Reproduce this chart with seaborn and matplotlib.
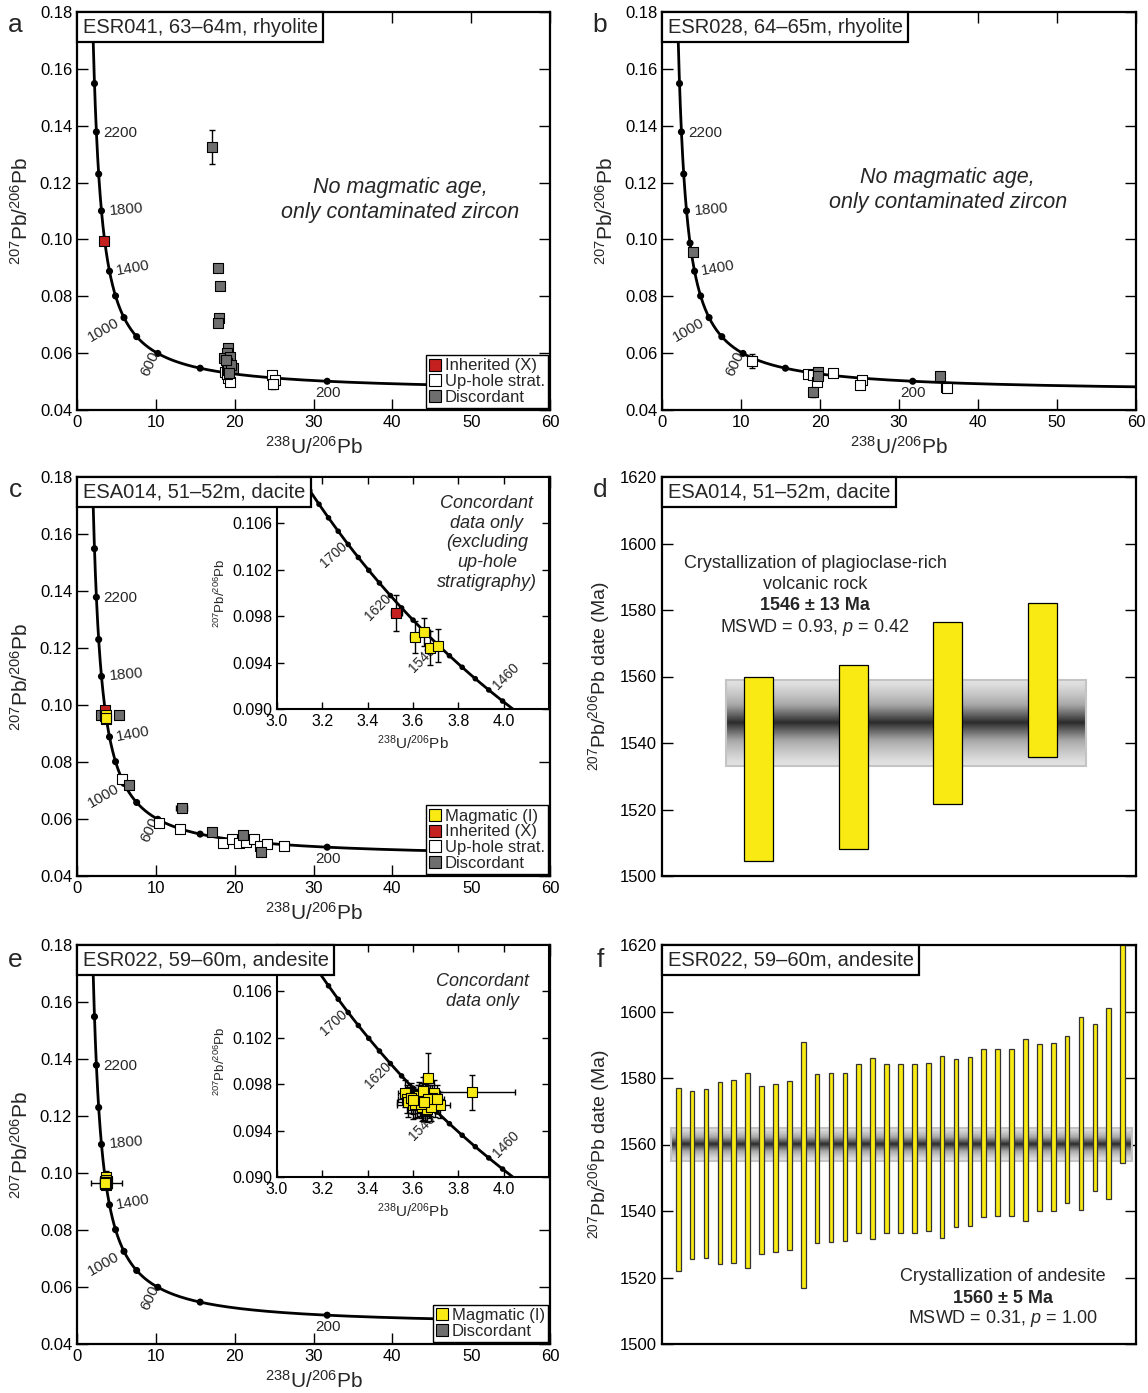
import numpy as np
import matplotlib
matplotlib.use('Agg')
import matplotlib.pyplot as plt
import seaborn as sns
from matplotlib.lines import Line2D
from matplotlib.patches import Rectangle
from matplotlib.offsetbox import AnchoredText
from matplotlib.colors import LinearSegmentedColormap
from matplotlib.ticker import FormatStrFormatter, MultipleLocator

sns.set_style('ticks')
plt.rcParams['font.family'] = ['Liberation Sans', 'DejaVu Sans']
plt.rcParams['mathtext.fontset'] = 'custom'
plt.rcParams['mathtext.rm'] = 'Liberation Sans'
plt.rcParams['mathtext.it'] = 'Liberation Sans:italic'
plt.rcParams['mathtext.bf'] = 'Liberation Sans:bold'

# %% colours
RED = '#c4201f'
WHITE = '#ffffff'
GRAY = '#6e6e6e'
YELLOW = '#f8ea12'

# %% concordia (Tera-Wasserburg) model
L238 = 1.55125e-10
L235 = 9.8485e-10
U_RATIO = 137.88
main_dot_ages = [200, 400, 600, 800, 1000, 1200, 1400, 1600, 1800, 2000, 2200, 2400]
inset_dot_ages = [1440, 1460, 1480, 1500, 1520, 1540, 1560, 1580, 1600, 1620,
                  1640, 1660, 1680, 1700, 1720, 1740, 1760, 1780]
main_labels = [('2200', 5.45, 0.1375, 0), ('1800', 6.3, 0.1106, 5),
               ('1400', 7.14, 0.0898, 10), ('1000', 3.34, 0.0681, 30),
               ('600', 9.2, 0.0562, 65), ('200', 31.8, 0.0459, 0)]
inset_labels = [('1700', 3.249, 0.1033, 42), ('1620', 3.448, 0.0988, 45),
                ('1540', 3.640, 0.0943, 45), ('1460', 4.009, 0.0928, 45)]

# %% ESR041 (a)
a_inh_x = [3.42]
a_inh_y = [0.0993]
a_inh_yerr = [0.0010]
a_up_x = [18.8, 19.2, 19.4, 19.0, 24.7, 25.1, 24.9]
a_up_y = [0.0535, 0.0511, 0.0500, 0.0525, 0.0523, 0.0506, 0.0490]
a_up_yerr = [0.0012, 0.0020, 0.0015, 0.0012, 0.0012, 0.0015, 0.0015]
a_disc_x = [17.16, 17.85, 18.14, 18.0, 17.85, 19.2, 19.0, 18.65, 19.4, 19.0,
            19.2, 19.83, 19.5, 18.9, 19.3]
a_disc_y = [0.1326, 0.0898, 0.0837, 0.0725, 0.0705, 0.0617, 0.0600, 0.0584,
            0.0587, 0.0564, 0.0541, 0.0547, 0.0560, 0.0575, 0.0530]
a_disc_yerr = [0.0060, 0.0010, 0.0010, 0.0009, 0.0009, 0.0015, 0.0012, 0.0010,
               0.0010, 0.0010, 0.0010, 0.0010, 0.0010, 0.0010, 0.0012]

# %% ESR028 (b)
b_disc_x = [3.96, 19.8, 19.8, 19.15, 35.2]
b_disc_y = [0.0955, 0.0535, 0.0519, 0.0462, 0.0521]
b_disc_yerr = [0.0006, 0.0008, 0.0008, 0.0015, 0.0009]
b_up_x = [11.35, 18.5, 19.15, 19.6, 21.6, 25.3, 25.1, 36.0, 36.1]
b_up_y = [0.0572, 0.0527, 0.0523, 0.0500, 0.0531, 0.0506, 0.0488, 0.0482, 0.0476]
b_up_yerr = [0.0026, 0.0006, 0.0012, 0.0012, 0.0006, 0.0006, 0.0012, 0.0006, 0.0005]

# %% ESA014 (c, d)
c_mag_x = [3.608, 3.650, 3.677, 3.709]
c_mag_y = [0.09617, 0.09663, 0.09525, 0.09545]
c_mag_xerr = [0.020, 0.025, 0.020, 0.020]
c_mag_yerr = [0.00138, 0.00120, 0.00144, 0.00144]
c_inh_x = [3.527]
c_inh_y = [0.09828]
c_inh_xerr = [0.024]
c_inh_yerr = [0.00153]
c_up_x = [5.75, 10.4, 13.06, 18.55, 19.6, 20.5, 21.4, 22.4, 23.2, 24.1, 26.3]
c_up_y = [0.0739, 0.0587, 0.0564, 0.0517, 0.0529, 0.0517, 0.0518, 0.0530,
          0.0506, 0.0513, 0.0507]
c_up_yerr = [0.0006, 0.0008, 0.0008, 0.0012, 0.0010, 0.0008, 0.0008, 0.0012,
             0.0012, 0.0012, 0.0010]
c_disc_x = [3.0, 5.37, 6.64, 13.27, 17.1, 21.0, 23.3]
c_disc_y = [0.0966, 0.0965, 0.0721, 0.0640, 0.0554, 0.0544, 0.0485]
c_disc_xerr = [0.2, 0.2, 0.2, 0.7, 0.3, 0.3, 0.3]
c_disc_yerr = [0.0006, 0.0006, 0.0006, 0.0007, 0.0005, 0.0006, 0.0010]
d_lo = [1504.6, 1508.2, 1521.6, 1535.7]
d_hi = [1559.9, 1563.4, 1576.3, 1582.2]
d_mean, d_err = 1546, 13

# %% ESR022 (e, f)
e_mag_x = [3.665, 3.862, 3.566, 3.573, 3.580, 3.599, 3.621, 3.639, 3.646, 3.661,
           3.668, 3.676, 3.691, 3.698, 3.720, 3.653, 3.617, 3.630, 3.655, 3.610,
           3.640, 3.670, 3.685, 3.660, 3.625, 3.645, 3.680, 3.590, 3.635, 3.665,
           3.705, 3.650, 3.600]
e_mag_y = [0.0985, 0.0973, 0.0972, 0.0967, 0.0965, 0.0962, 0.0967, 0.0969, 0.0962, 0.0965,
           0.0970, 0.0966, 0.0972, 0.0964, 0.0962, 0.0961, 0.0964, 0.0966, 0.0968, 0.0963,
           0.0960, 0.0963, 0.0968, 0.0959, 0.0970, 0.0974, 0.0960, 0.0968, 0.0963, 0.0967,
           0.0967, 0.0965, 0.0966]
e_mag_xerr = [0.02, 0.19, 0.03, 0.04, 0.05, 0.07, 0.03, 0.03, 0.03, 0.03,
              0.03, 0.03, 0.03, 0.04, 0.045, 0.03, 0.03, 0.03, 0.03, 0.03,
              0.02, 0.03, 0.03, 0.03, 0.03, 0.03, 0.03, 0.03, 0.03, 0.03,
              0.03, 0.03, 0.03]
e_mag_yerr = [0.0022, 0.0015, 0.0012, 0.0012, 0.0013, 0.0012, 0.0012, 0.0012, 0.0013, 0.0012,
              0.0012, 0.0013, 0.0012, 0.0012, 0.0011, 0.0013, 0.0012, 0.0013, 0.0012, 0.0012,
              0.0012, 0.0012, 0.0011, 0.0012, 0.0012, 0.0012, 0.0012, 0.0013, 0.0012, 0.0012,
              0.0012, 0.0012, 0.0012]
e_disc_x = [3.75]
e_disc_y = [0.0966]
e_disc_xerr = [2.0]
e_disc_yerr = [0.0010]
f_lo = [1522.0, 1525.5, 1525.8, 1524.0, 1524.5, 1522.9, 1527.1, 1527.6, 1528.3, 1516.7,
        1530.3, 1530.6, 1531.0, 1533.5, 1531.6, 1533.5, 1533.5, 1533.5, 1533.9, 1532.0,
        1535.1, 1535.6, 1538.1, 1538.4, 1538.4, 1537.1, 1540.0, 1540.0, 1542.4, 1540.3,
        1546.0, 1543.5, 1554.3]
f_hi = [1576.9, 1576.2, 1576.6, 1578.8, 1579.4, 1581.6, 1577.7, 1578.2, 1579.1, 1590.9,
        1581.3, 1581.6, 1581.6, 1584.1, 1585.9, 1584.1, 1584.1, 1584.1, 1584.4, 1586.6,
        1585.7, 1586.2, 1588.8, 1588.8, 1588.8, 1591.6, 1590.2, 1590.6, 1592.7, 1598.3,
        1596.1, 1601.2, 1627.0]
f_mean, f_err = 1560, 5


def tw(ages_ma):
    t = np.asarray(ages_ma, dtype=float) * 1e6
    e238 = np.exp(L238 * t) - 1
    e235 = np.exp(L235 * t) - 1
    return 1 / e238, e235 / e238 / U_RATIO


fig = plt.figure(figsize=(11.48, 13.93), dpi=100)
W, H = 1148, 1393


def add_ax(x0, x1, y_top, y_bot):
    return fig.add_axes([x0 / W, 1 - y_bot / H, (x1 - x0) / W, (y_bot - y_top) / H])


def style(ax, length=8, size=12, lw=1.6):
    ax.tick_params(direction='in', length=length, width=1, top=True, right=True,
                   labelsize=size, colors='black')
    for s in ax.spines.values():
        s.set_linewidth(lw)
        s.set_color('black')


def concordia(ax, ages_line, dot_ages, labels, fs, s_dot):
    cx, cy = tw(ages_line)
    sns.lineplot(x=cx, y=cy, ax=ax, color='black', lw=2, sort=False, zorder=2)
    dx, dy = tw(dot_ages)
    sns.scatterplot(x=dx, y=dy, ax=ax, color='black', s=s_dot, edgecolor='none', zorder=2, legend=False)
    for txt, x, y, r in labels:
        ax.text(x, y, txt, fontsize=fs, rotation=r, ha='center', va='center', zorder=2)


def group(ax, x, y, yerr, color, xerr=None, s=42):
    ax.errorbar(x, y, xerr=xerr, yerr=yerr, fmt='none', ecolor='black', elinewidth=1,
                capsize=2.5, capthick=1, zorder=3)
    sns.scatterplot(x=x, y=y, ax=ax, marker='s', s=s, color=color, edgecolor='black',
                    linewidth=0.8, zorder=4, legend=False)


def main_axes(ax):
    concordia(ax, np.linspace(60, 2800, 800), main_dot_ages, main_labels, 11, 26)
    ax.set_xlim(0, 60)
    ax.set_ylim(0.04, 0.18)
    ax.xaxis.set_major_locator(MultipleLocator(10))
    ax.yaxis.set_major_locator(MultipleLocator(0.02))
    ax.yaxis.set_major_formatter(FormatStrFormatter('%.2f'))
    ax.set_xlabel(r'$^{238}$U/$^{206}$Pb', fontsize=15, labelpad=4)
    ax.set_ylabel(r'$^{207}$Pb/$^{206}$Pb', fontsize=15, labelpad=6)
    style(ax)


def inset_axes(ax):
    concordia(ax, np.linspace(1380, 1800, 300), inset_dot_ages, inset_labels, 10, 16)
    ax.set_xlim(3.0, 4.2)
    ax.set_ylim(0.090, 0.110)
    ax.set_xticks([3.0, 3.2, 3.4, 3.6, 3.8, 4.0])
    ax.xaxis.set_major_formatter(FormatStrFormatter('%.1f'))
    ax.set_yticks([0.090, 0.094, 0.098, 0.102, 0.106])
    ax.yaxis.set_major_formatter(FormatStrFormatter('%.3f'))
    ax.set_xlabel(r'$^{238}$U/$^{206}$Pb', fontsize=11, labelpad=3)
    ax.set_ylabel(r'$^{207}$Pb/$^{206}$Pb', fontsize=9.5, labelpad=3)
    style(ax, length=5, size=11.5, lw=1.5)


def legend(ax, entries):
    handles = [Line2D([], [], marker='s', ls='none', markerfacecolor=c, markeredgecolor='black',
                      markersize=8, markeredgewidth=0.8) for c, _ in entries]
    leg = ax.legend(handles, [l for _, l in entries], loc='lower right', fontsize=12,
                    frameon=True, fancybox=False, edgecolor='black', borderaxespad=0.1,
                    handlelength=0.7, handletextpad=0.25, labelspacing=0.05, borderpad=0.2)
    leg.get_frame().set_linewidth(1.0)
    leg.get_frame().set_alpha(1)
    leg.set_zorder(6)


def label_box(ax, text):
    bb = ax.get_position()
    at = AnchoredText(text, loc='upper left', bbox_to_anchor=(bb.x0, bb.y1),
                      bbox_transform=fig.transFigure, borderpad=0, pad=0.28,
                      prop=dict(size=14.5), frameon=True)
    at.patch.set_boxstyle('square,pad=0')
    at.patch.set_linewidth(1.6)
    at.patch.set_edgecolor('black')
    at.set_zorder(10)
    fig.add_artist(at)


def band(ax, x0, x1, mean, err):
    cmap = LinearSegmentedColormap.from_list('band', ['#e4e4e4', '#a8a8a8', '#2b2b2b'])
    grad = 1 - np.abs(np.linspace(-1, 1, 201))
    ax.imshow(grad[:, None] ** 1.3, extent=[x0, x1, mean - err, mean + err], aspect='auto',
              cmap=cmap, vmin=0, vmax=1, zorder=1, interpolation='bilinear')
    ax.add_patch(Rectangle((x0, mean - err), x1 - x0, 2 * err, fill=False,
                           edgecolor='#c4c4c4', lw=1.5, zorder=1.5))


def date_axes(ax, lo, hi, width, xlim, edge):
    xs = np.arange(1, len(lo) + 1)
    ax.bar(xs, np.array(hi) - np.array(lo), bottom=lo, width=width, color=YELLOW,
           edgecolor=edge, linewidth=0.9, zorder=2)
    ax.set_xlim(*xlim)
    ax.set_ylim(1500, 1620)
    ax.yaxis.set_major_locator(MultipleLocator(20))
    ax.set_ylabel(r'$^{207}$Pb/$^{206}$Pb date (Ma)', fontsize=14, labelpad=6)
    style(ax)
    ax.tick_params(axis='x', bottom=False, top=False, labelbottom=False)


# %% panel a
ax_a = add_ax(77, 550, 12, 410)
main_axes(ax_a)
group(ax_a, a_up_x, a_up_y, a_up_yerr, WHITE)
group(ax_a, a_disc_x, a_disc_y, a_disc_yerr, GRAY)
group(ax_a, a_inh_x, a_inh_y, a_inh_yerr, RED)
ax_a.set_xlim(0, 60)
ax_a.set_ylim(0.04, 0.18)
ax_a.text(0.683, 0.528, 'No magmatic age,\nonly contaminated zircon', transform=ax_a.transAxes,
          fontsize=15.5, style='italic', ha='center', va='center', linespacing=1.25)
legend(ax_a, [(RED, 'Inherited (X)'), (WHITE, 'Up-hole strat.'), (GRAY, 'Discordant')])
label_box(ax_a, 'ESR041, 63–64m, rhyolite')

# %% panel b
ax_b = add_ax(662, 1136, 12, 410)
main_axes(ax_b)
group(ax_b, b_up_x, b_up_y, b_up_yerr, WHITE)
group(ax_b, b_disc_x, b_disc_y, b_disc_yerr, GRAY)
ax_b.set_xlim(0, 60)
ax_b.set_ylim(0.04, 0.18)
ax_b.text(0.603, 0.553, 'No magmatic age,\nonly contaminated zircon', transform=ax_b.transAxes,
          fontsize=15.5, style='italic', ha='center', va='center', linespacing=1.25)
label_box(ax_b, 'ESR028, 64–65m, rhyolite')

# %% panel c
ax_c = add_ax(77, 550, 477, 876)
main_axes(ax_c)
group(ax_c, c_up_x, c_up_y, c_up_yerr, WHITE)
group(ax_c, c_disc_x, c_disc_y, c_disc_yerr, GRAY, xerr=c_disc_xerr)
group(ax_c, c_inh_x, c_inh_y, c_inh_yerr, RED, xerr=c_inh_xerr)
group(ax_c, c_mag_x, c_mag_y, c_mag_yerr, YELLOW, xerr=c_mag_xerr)
ax_c.set_xlim(0, 60)
ax_c.set_ylim(0.04, 0.18)
legend(ax_c, [(YELLOW, 'Magmatic (I)'), (RED, 'Inherited (X)'), (WHITE, 'Up-hole strat.'),
              (GRAY, 'Discordant')])

ax_ci = add_ax(277, 549, 477, 709)
inset_axes(ax_ci)
group(ax_ci, c_inh_x, c_inh_y, c_inh_yerr, RED, xerr=c_inh_xerr)
group(ax_ci, c_mag_x, c_mag_y, c_mag_yerr, YELLOW, xerr=c_mag_xerr)
ax_ci.set_xlim(3.0, 4.2)
ax_ci.set_ylim(0.090, 0.110)
ax_ci.text(0.772, 0.716, 'Concordant\ndata only\n(excluding\nup-hole\nstratigraphy)',
           transform=ax_ci.transAxes, fontsize=13, style='italic', ha='center', va='center',
           linespacing=1.2)
label_box(ax_c, 'ESA014, 51–52m, dacite')

# %% panel d
ax_d = add_ax(662, 1136, 477, 876)
band(ax_d, 0.653, 4.46, d_mean, d_err)
date_axes(ax_d, d_lo, d_hi, 0.306, (-0.024, 4.99), 'black')
ax_d.text(0.323, 0.757, 'Crystallization of plagioclase-rich\nvolcanic rock', transform=ax_d.transAxes,
          fontsize=13, ha='center', va='center', linespacing=1.25)
ax_d.text(0.323, 0.679, '1546 ± 13 Ma', transform=ax_d.transAxes, fontsize=13,
          fontweight='bold', ha='center', va='center')
ax_d.text(0.323, 0.624, r'MSWD = 0.93, $p$ = 0.42', transform=ax_d.transAxes, fontsize=13,
          ha='center', va='center')
label_box(ax_d, 'ESA014, 51–52m, dacite')

# %% panel e
ax_e = add_ax(77, 550, 945, 1344)
main_axes(ax_e)
group(ax_e, e_disc_x, e_disc_y, e_disc_yerr, GRAY, xerr=e_disc_xerr)
group(ax_e, e_mag_x, e_mag_y, e_mag_yerr, YELLOW, xerr=e_mag_xerr)
ax_e.set_xlim(0, 60)
ax_e.set_ylim(0.04, 0.18)
legend(ax_e, [(YELLOW, 'Magmatic (I)'), (GRAY, 'Discordant')])

ax_ei = add_ax(277, 549, 945, 1177)
inset_axes(ax_ei)
group(ax_ei, e_mag_x, e_mag_y, e_mag_yerr, YELLOW, xerr=e_mag_xerr)
ax_ei.set_xlim(3.0, 4.2)
ax_ei.set_ylim(0.090, 0.110)
ax_ei.text(0.754, 0.80, 'Concordant\ndata only', transform=ax_ei.transAxes, fontsize=13,
           style='italic', ha='center', va='center', linespacing=1.2)
label_box(ax_e, 'ESR022, 59–60m, andesite')

# %% panel f
ax_f = add_ax(662, 1136, 945, 1344)
band(ax_f, 0.45, 33.64, f_mean, f_err)
date_axes(ax_f, f_lo, f_hi, 0.34, (-0.17, 33.96), '#333333')
ax_f.text(0.719, 0.168, 'Crystallization of andesite', transform=ax_f.transAxes, fontsize=13,
          ha='center', va='center')
ax_f.text(0.719, 0.115, '1560 ± 5 Ma', transform=ax_f.transAxes, fontsize=13,
          fontweight='bold', ha='center', va='center')
ax_f.text(0.719, 0.063, r'MSWD = 0.31, $p$ = 1.00', transform=ax_f.transAxes, fontsize=13,
          ha='center', va='center')
label_box(ax_f, 'ESR022, 59–60m, andesite')

# %% panel letters
for letter, px, py in [('a', 15, 25), ('b', 600, 25), ('c', 15, 490), ('d', 600, 490),
                       ('e', 15, 960), ('f', 600, 960)]:
    fig.text(px / W, 1 - py / H, letter, fontsize=19, ha='center', va='center')

fig.savefig('out.png', dpi=100, facecolor='white')
